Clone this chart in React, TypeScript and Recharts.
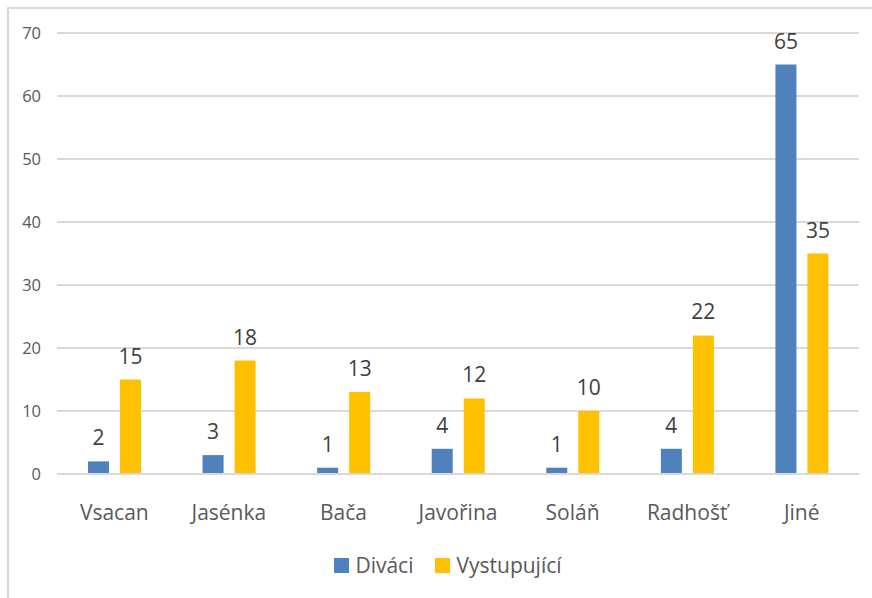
import React from "react";
import { BarChart, Bar, XAxis, YAxis, CartesianGrid, LabelList, Legend } from "recharts";

const categories = ["Vsacan", "Jasénka", "Bača", "Javořina", "Soláň", "Radhošť", "Jiné"];
const divaci = [2, 3, 1, 4, 1, 4, 65];
const vystupujici = [15, 18, 13, 12, 10, 22, 35];
const yTicks = [0, 10, 20, 30, 40, 50, 60, 70];

const seriesNames = { divaci: "Diváci", vystupujici: "Vystupující" };
const colors = { divaci: "#4F81BD", vystupujici: "#FFC000" };

const data = categories.map((c, i) => ({ name: c, divaci: divaci[i], vystupujici: vystupujici[i] }));

const FONT = "'Open Sans', sans-serif";

const LegendContent = () => (
  <div style={{ display: "flex", justifyContent: "center", paddingLeft: 24, fontFamily: FONT, fontSize: 21, color: "#595959" }}>
    {(["divaci", "vystupujici"] as const).map((k, i) => (
      <div key={k} style={{ display: "flex", alignItems: "center", marginLeft: i ? 22 : 0 }}>
        <span style={{ width: 15, height: 15, background: colors[k], display: "inline-block", marginRight: 6 }} />
        <span>{seriesNames[k]}</span>
      </div>
    ))}
  </div>
);

export default function App() {
  return (
    <div style={{ position: "fixed", left: 0, top: 0, width: 872, height: 598, overflow: "hidden", background: "#fff" }}>
      <div style={{ position: "absolute", left: 7, top: 7, width: 900, height: 620, borderLeft: "2px solid #d9d9d9", borderTop: "2px solid #d9d9d9" }} />
      <div style={{ position: "absolute", left: 0, top: 0 }}>
        <BarChart
          width={872}
          height={598}
          data={data}
          margin={{ top: 33, right: 13, left: 0, bottom: 0 }}
          barSize={21}
          barGap={11}
        >
          <CartesianGrid vertical={false} stroke="#d9d9d9" strokeWidth={2} />
          <XAxis
            dataKey="name"
            axisLine={{ stroke: "#d9d9d9", strokeWidth: 2 }}
            tickLine={false}
            tickSize={0}
            tickMargin={31}
            height={60}
            interval={0}
            tick={{ fill: "#595959", fontSize: 21, fontFamily: FONT }}
          />
          <YAxis
            domain={[0, 70]}
            ticks={yTicks}
            axisLine={false}
            tickLine={false}
            tickSize={0}
            tickMargin={16}
            width={57}
            tick={{ fill: "#595959", fontSize: 16.5, fontFamily: FONT }}
          />
          <Legend verticalAlign="bottom" height={64} content={<LegendContent />} wrapperStyle={{ top: 551, left: 0, width: 872 }} />
          <Bar dataKey="divaci" name={seriesNames.divaci} fill={colors.divaci} isAnimationActive={false}>
            <LabelList dataKey="divaci" position="top" offset={16} fill="#404040" fontSize={21} fontFamily={FONT} />
          </Bar>
          <Bar dataKey="vystupujici" name={seriesNames.vystupujici} fill={colors.vystupujici} isAnimationActive={false}>
            <LabelList dataKey="vystupujici" position="top" offset={16} fill="#404040" fontSize={21} fontFamily={FONT} />
          </Bar>
        </BarChart>
      </div>
    </div>
  );
}
